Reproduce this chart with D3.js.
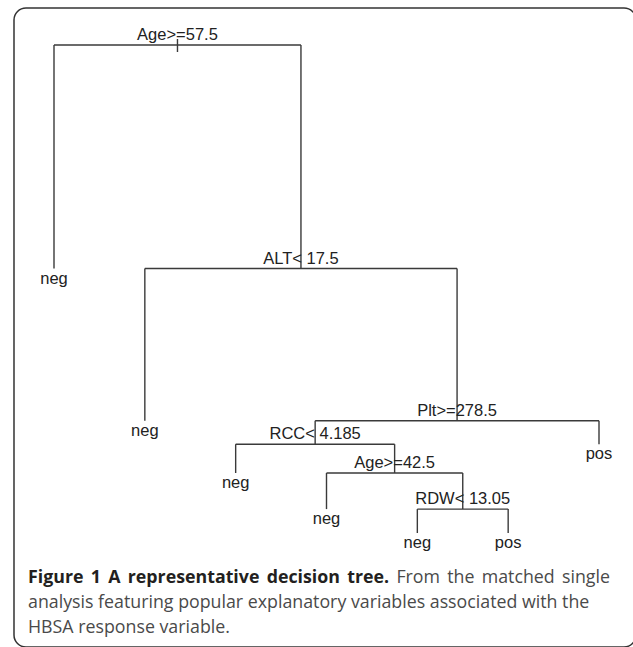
<!DOCTYPE html>
<html lang="en">
  <head>
    <meta charset="utf-8"/>
    <title>A representative decision tree</title>
    <script src="https://cdn.jsdelivr.net/npm/d3@7"></script>
    <style>
      body { margin: 0; background: #fff; }
      .edge { stroke: #3a3a3a; stroke-width: 1.4; fill: none; }
      .nodeLabel { font-family: "Liberation Sans", Arial, sans-serif; font-size: 16.5px; fill: #222; }
      .caption { font-family: "Open Sans", sans-serif; font-size: 17.8px; fill: #4a4a4a; }
      .caption .bold { font-weight: bold; fill: #231f20; }
    </style>
  </head>
  <body>
    <div id="chart"></div>
    <script>

      // rpart node numbers (child of n is 2n / 2n+1), split / leaf labels
      var nodeIds    = [1, 2, 3, 6, 7, 14, 15, 28, 29, 58, 59, 118, 119];
      var nodeLabels = ["Age>=57.5", "neg", "ALT< 17.5", "neg", "Plt>=278.5", "RCC< 4.185", "pos",
                        "neg", "Age>=42.5", "neg", "RDW< 13.05", "neg", "pos"];
      // relative height of each node (deviance scale, root = 1)
      var nodeHeights = [1.0, 0.542, 0.542, 0.230, 0.230, 0.182, 0.182, 0.123, 0.123, 0.049, 0.049, 0, 0];

      var captionBold = "Figure 1 A representative decision tree.";
      var captionLines = [
        " From the matched single",
        "analysis featuring popular explanatory variables associated with the",
        "HBSA response variable."
      ];

      var width = 633, height = 647;

      var svg = d3.select("#chart")
        .append("svg")
        .attr("width", width)
        .attr("height", height);

      // outer figure frame (right side runs off the page)
      svg.append("rect")
        .attr("x", 14)
        .attr("y", 8)
        .attr("width", 622)
        .attr("height", 639)
        .attr("rx", 12)
        .attr("fill", "none")
        .attr("stroke", "#333")
        .attr("stroke-width", 1.5);

      // build the tree from the node numbers
      var table = nodeIds.map(function(id, i) {
        return { id: id, label: nodeLabels[i], h: nodeHeights[i] };
      });
      var root = d3.stratify()
        .id(function(d) { return d.id; })
        .parentId(function(d) { return d.id === 1 ? null : Math.floor(d.id / 2); })
        (table);
      root.sort(function(a, b) { return a.data.id - b.data.id; });

      var leaves = root.leaves();
      var x = d3.scaleLinear().domain([0, leaves.length - 1]).range([54, 599]);
      var y = d3.scaleLinear().domain([0, 1]).range([533, 45]);

      leaves.forEach(function(d, i) { d.px = x(i); });
      root.eachAfter(function(d) {
        if (d.children) d.px = (d.children[0].px + d.children[1].px) / 2;
        d.py = y(d.data.h);
      });

      var g = svg.append("g");

      // root tick
      g.append("line")
        .attr("class", "edge")
        .attr("x1", root.px).attr("x2", root.px)
        .attr("y1", root.py - 6).attr("y2", root.py + 7);

      // horizontal bars of each split
      g.selectAll(".hbar")
        .data(root.descendants().filter(function(d) { return d.children; }))
        .enter()
        .append("line")
        .attr("class", "edge")
        .attr("x1", function(d) { return d.children[0].px; })
        .attr("x2", function(d) { return d.children[1].px; })
        .attr("y1", function(d) { return d.py; })
        .attr("y2", function(d) { return d.py; });

      // vertical drops to each child
      g.selectAll(".vbar")
        .data(root.descendants().filter(function(d) { return d.parent; }))
        .enter()
        .append("line")
        .attr("class", "edge")
        .attr("x1", function(d) { return d.px; })
        .attr("x2", function(d) { return d.px; })
        .attr("y1", function(d) { return d.parent.py; })
        .attr("y2", function(d) { return d.py; });

      // labels: splits above their bar, leaves below the drop
      g.selectAll(".nodeLabel")
        .data(root.descendants())
        .enter()
        .append("text")
        .attr("class", "nodeLabel")
        .attr("text-anchor", "middle")
        .attr("x", function(d) { return d.px; })
        .attr("y", function(d) { return d.children ? d.py - 5 : d.py + 15; })
        .text(function(d) { return d.data.label; });

      // caption, first line justified out to the right margin
      var cap = svg.append("text")
        .attr("class", "caption")
        .attr("x", 28)
        .attr("y", 583);
      cap.append("tspan").attr("class", "bold").text(captionBold);
      cap.append("tspan").text(captionLines[0]);
      var spaces = (captionBold + captionLines[0]).split(" ").length - 1;
      var extra = (610 - 28 - cap.node().getComputedTextLength()) / spaces;
      if (extra > 0) cap.attr("word-spacing", extra);

      captionLines.slice(1).forEach(function(line, i) {
        svg.append("text")
          .attr("class", "caption")
          .attr("x", 28)
          .attr("y", 608 + i * 25)
          .text(line);
      });
    </script>
  </body>
</html>
